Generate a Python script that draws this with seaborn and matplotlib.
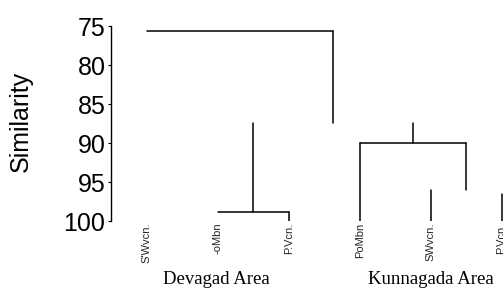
#!/usr/bin/env python3
"""
plot.py - Redraw the Devagad / Kunnagada similarity dendrogram.
"""

import matplotlib

matplotlib.use('Agg')

import matplotlib.pyplot as plt
import matplotlib.transforms as mtransforms
import pandas as pd
import seaborn as sns


# -- Data -- #

# Leaves, in drawing order (index = position on the x axis).
LEAF_LABELS = ["S'Wvcn.", '-oMbn', 'P.Vcn.', 'PoMbn', 'SWvcn.', 'P.Vcn.']

# Horizontal joins: left leaf position, right leaf position, similarity.
JOIN_LEFT = [0.0, 1.0, 3.0]
JOIN_RIGHT = [2.62, 2.0, 4.5]
JOIN_LEVEL = [75.6, 98.85, 90.0]

# Vertical stems: position, upper similarity, lower similarity.
STEM_POS = [2.62, 1.5, 2.0, 3.75, 3.0, 4.5, 4.0, 5.0]
STEM_TOP = [75.6, 87.4, 98.85, 87.4, 90.0, 90.0, 96.0, 96.5]
STEM_BOTTOM = [87.4, 98.85, 100.0, 90.0, 100.0, 96.0, 100.0, 100.0]

# Group captions under the leaves and the leaf they sit under.
GROUP_LABELS = ['Devagad Area', 'Kunnagada Area']
GROUP_POS = [0.98, 4.0]

Y_TICKS = [75, 80, 85, 90, 95, 100]


def build_segments() -> pd.DataFrame:
    rows = []
    seg = 0
    for x0, x1, lvl in zip(JOIN_LEFT, JOIN_RIGHT, JOIN_LEVEL):
        rows += [(seg, x0, lvl, 0), (seg, x1, lvl, 1)]
        seg += 1
    for x, top, bot in zip(STEM_POS, STEM_TOP, STEM_BOTTOM):
        rows += [(seg, x, top, 0), (seg, x, bot, 1)]
        seg += 1
    return pd.DataFrame(rows, columns=['seg', 'x', 'sim', 'order'])


def main():
    sns.set_style('white')
    plt.rcParams['font.family'] = ['Liberation Sans', 'DejaVu Sans']

    fig = plt.figure(figsize=(5.03, 2.88), dpi=100)
    ax = fig.add_axes([0.2207, 0.2326, 0.7793, 0.6771])

    df = build_segments()
    sns.lineplot(
        data=df, x='x', y='sim', units='seg', estimator=None,
        sort=False, color='black', linewidth=1.1, ax=ax,
    )

    ax.set_xlim(-0.507, 5.02)
    ax.set_ylim(100, 75)

    # y axis: only the left spine, 75..100
    for side in ['top', 'right', 'bottom']:
        ax.spines[side].set_visible(False)
    ax.spines['left'].set_bounds(75, 100)
    ax.spines['left'].set_linewidth(1.0)
    ax.spines['left'].set_color('black')
    ax.set_yticks(Y_TICKS)
    ax.tick_params(axis='y', length=2, width=0.8, pad=2,
                   labelsize=18, left=True, colors='black')

    # leaf labels
    ax.set_xticks(range(len(LEAF_LABELS)))
    ax.set_xticklabels(LEAF_LABELS, rotation=90, fontsize=8)
    ax.tick_params(axis='x', length=0, pad=1)

    ax.set_xlabel('')
    ax.set_ylabel('Similarity', fontsize=18, color='black')
    ax.yaxis.set_label_coords(-0.199, 0.51)

    trans = mtransforms.blended_transform_factory(ax.transData, ax.transAxes)
    for label, pos in zip(GROUP_LABELS, GROUP_POS):
        ax.text(pos, -0.30, label, transform=trans, ha='center',
                va='center', fontsize=13.5, color='black',
                family='Liberation Serif')

    fig.savefig('out.png', dpi=100)


if __name__ == '__main__':
    main()
